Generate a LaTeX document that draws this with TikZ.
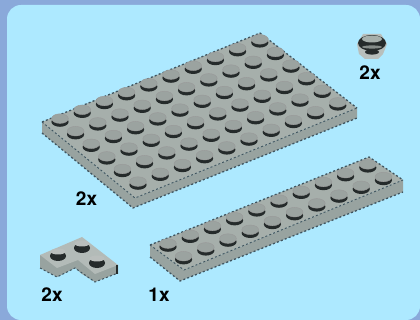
\documentclass[tikz,border=0pt]{standalone}
\usepackage{fontspec}
\setmainfont{TeX Gyre Heros}
\usetikzlibrary{calc}
\definecolor{moldura}{HTML}{8AA9DA}
\definecolor{fundo}{HTML}{ADE9FF}
\definecolor{placa}{HTML}{A6AFAB}
\definecolor{lateral}{HTML}{98A3A0}
\definecolor{pino}{HTML}{9BA3A0}
\definecolor{sombra}{HTML}{252B2B}
\definecolor{borda}{HTML}{3F5560}
\begin{document}
\begin{tikzpicture}[
		x=1pt, y=-1pt,
		rotulo/.style={font=\fontsize{19}{19}\selectfont\bfseries, inner sep=0pt, text=black},
		topo/.style={fill=placa},
		lado/.style={fill=lateral},
		serrilha/.style={draw=borda, line width=1.3pt, dash pattern=on 2pt off 2.2pt},
		stud/.pic={
			\fill[sombra] (0,1.8) ellipse [x radius=8.6pt, y radius=5pt];
			\fill[pino] (0,-1.4) ellipse [x radius=8.4pt, y radius=4.8pt];
			\draw[black!40, line width=0.4pt] (0,-1.4) ellipse [x radius=8.4pt, y radius=4.8pt];
		}
	]

	\useasboundingbox (0,0) rectangle (420,320);
	\fill[moldura] (0,0) rectangle (420,320);
	\fill[fundo, rounded corners=14pt] (7,5) rectangle (420,320);

	% placa grande
	\fill[lado] (42,122) -- (135,198) -- (357,108) -- (357,118) -- (133,208) -- (42,133) -- cycle;
	\fill[topo] (42,122) -- (260,33) -- (357,108) -- (135,198) -- cycle;
	\draw[serrilha] (42,133) -- (133,208) -- (357,118);
	\draw[serrilha, line width=0.9pt] (42,122) -- (135,198) -- (357,108);
	\draw[serrilha] (42,122) -- (260,33) -- (357,108);
	\foreach \i in {0,...,5}
		\foreach \j in {0,...,9}
			\pic at ($(60,120)+\i*(15.6,12.6)+\j*(22.2,-8.8)$) {stud};

	% placa comprida
	\fill[lado] (150,245) -- (184,270) -- (403,180) -- (403,192) -- (180,281) -- (150,257) -- cycle;
	\fill[topo] (150,245) -- (369,157) -- (403,180) -- (184,270) -- cycle;
	\draw[serrilha] (150,257) -- (180,281) -- (403,192);
	\draw[serrilha, line width=0.9pt] (150,245) -- (184,270) -- (403,180);
	\draw[serrilha] (150,245) -- (369,157) -- (403,180);
	\foreach \i in {0,1}
		\foreach \j in {0,...,9}
			\pic at ($(168,245)+\i*(15.6,12.6)+\j*(22.2,-8.8)$) {stud};

	% canto
	\fill[lado] (40,255) -- (40,268) -- (57,277) -- (75,268) -- (82,274) -- (95,282) -- (118,273) -- (118,265) -- cycle;
	\fill[placa!85!white] (40,255) -- (82,237) -- (118,265) -- (95,274) -- (78,260) -- (57,268) -- cycle;
	\draw[serrilha, line width=1pt] (40,268) -- (57,277) -- (75,268) -- (95,282) -- (118,273);
	\draw[sombra, line width=2.4pt] (117,265) -- (117,274);
	\foreach \px/\py in {58/256, 82/248, 97/263} {
		\fill[sombra] (\px,\py) ellipse [x radius=8pt, y radius=5pt];
		\fill[pino!70!white] (\px,\py-4.5) ellipse [x radius=7.5pt, y radius=3pt];
	}

	% pino redondo
	\fill[placa!80!white] (363,34) -- (381,34) -- (387,44) -- (383,54) -- (378,59) -- (365,59) -- (359,54) -- (357,44) -- cycle;
	\fill[sombra] (372,43) ellipse [x radius=14pt, y radius=8pt];
	\fill[placa] (372,39) ellipse [x radius=10pt, y radius=3.5pt];
	\fill[placa!80!black] (372,47) ellipse [x radius=10pt, y radius=1.6pt];
	\fill[sombra] (372,52) ellipse [x radius=7pt, y radius=2.6pt];

	\node[rotulo] (qtdpino) at (370,73) {2x};
	\node[rotulo] (qtdgrande) at (86.5,199) {2x};
	\node[rotulo] (qtdcanto) at (52,295) {2x};
	\node[rotulo] (qtdcomprida) at (159,295) {1x};
\end{tikzpicture}
\end{document}
